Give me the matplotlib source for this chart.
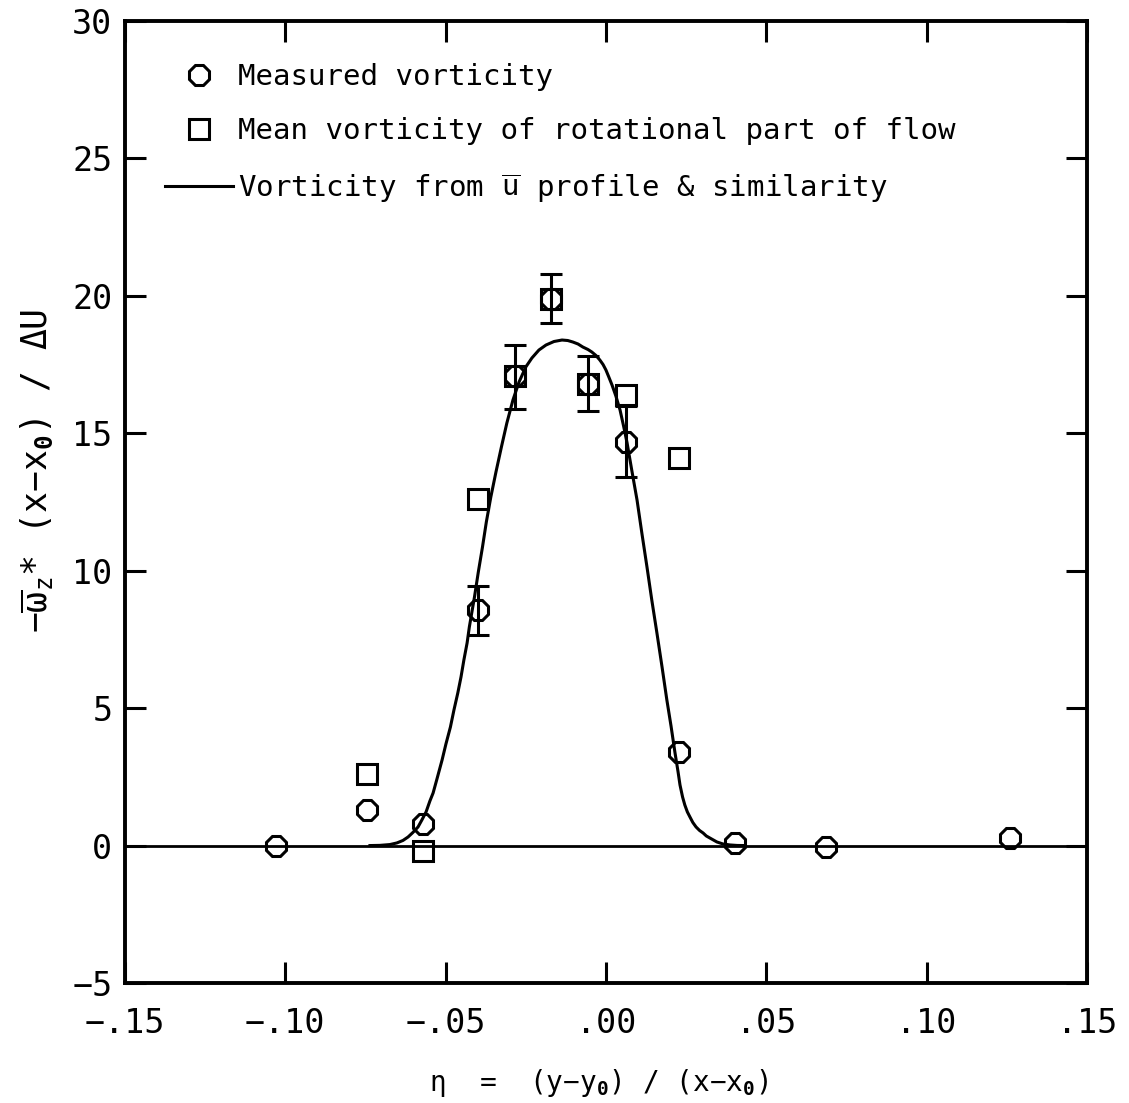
import matplotlib
matplotlib.use("Agg")
import matplotlib.pyplot as plt

plt.rcParams["font.family"] = ["DejaVu Sans Mono", "DejaVu Sans"]
plt.rcParams["mathtext.fontset"] = "custom"
plt.rcParams["mathtext.rm"] = "DejaVu Sans Mono"
plt.rcParams["mathtext.it"] = "DejaVu Sans Mono"
plt.rcParams["mathtext.bf"] = "DejaVu Sans Mono:bold"

# Measured vorticity (circles)
eta_meas = [-0.103, -0.0745, -0.057, -0.040, -0.0284, -0.0172, -0.0056, 0.0062, 0.0228, 0.0402, 0.0686, 0.126]
w_meas = [0.0, 1.3, 0.8, 8.57, 17.1, 19.9, 16.8, 14.7, 3.4, 0.1, -0.05, 0.28]

# Error bars on measured points
eta_err = [-0.040, -0.0284, -0.0172, -0.0056, 0.0062]
w_err_center = [8.55, 17.05, 19.9, 16.8, 14.7]
w_err = [0.9, 1.15, 0.9, 1.0, 1.3]

# Mean vorticity of rotational part of flow (squares)
eta_rot = [-0.0745, -0.057, -0.040, -0.0284, -0.0172, -0.0056, 0.0062, 0.0228]
w_rot = [2.6, -0.2, 12.6, 17.1, 19.9, 16.8, 16.4, 14.1]

# Vorticity from mean-velocity profile and similarity
eta_curve = [-0.0736, -0.0705, -0.0674, -0.0652, -0.0633, -0.0617, -0.0602, -0.0586,
             -0.0574, -0.0561, -0.0549, -0.0539, -0.0527, -0.0511, -0.0499, -0.0485,
             -0.0474, -0.0462, -0.0452, -0.0443, -0.0433, -0.0426, -0.0418, -0.0410,
             -0.0398, -0.0385, -0.0373, -0.0359, -0.0343, -0.0326, -0.0309, -0.0290,
             -0.0271, -0.0250, -0.0231, -0.0209, -0.0187, -0.0162, -0.0137, -0.0119,
             -0.0103, -0.0087, -0.0072, -0.0056, -0.0044, -0.0031, -0.0019, -0.0009,
             0.0, 0.0009, 0.0019, 0.0031, 0.0044, 0.0055, 0.0066, 0.0081,
             0.0097, 0.0112, 0.0128, 0.0143, 0.0159, 0.0175, 0.0190, 0.0203,
             0.0215, 0.0225, 0.0231, 0.0239, 0.0246, 0.0254, 0.0262, 0.0271,
             0.0281, 0.0292, 0.0303, 0.0313, 0.0324, 0.0346, 0.0365, 0.0387,
             0.0409, 0.0433]
w_curve = [0.0, 0.007, 0.036, 0.095, 0.186, 0.313, 0.477, 0.677,
           0.931, 1.222, 1.622, 1.913, 2.423, 3.114, 3.696, 4.314,
           4.933, 5.551, 6.133, 6.752, 7.370, 7.952, 8.498, 9.043,
           9.953, 10.862, 11.772, 12.681, 13.590, 14.500, 15.373, 16.210,
           16.864, 17.410, 17.737, 18.028, 18.210, 18.338, 18.392, 18.374,
           18.319, 18.247, 18.137, 18.047, 17.956, 17.828, 17.665, 17.501,
           17.301, 17.046, 16.755, 16.355, 15.846, 15.264, 14.645, 13.627,
           12.572, 11.371, 10.135, 8.934, 7.734, 6.497, 5.297, 4.351,
           3.405, 2.677, 2.204, 1.768, 1.477, 1.222, 1.040, 0.840,
           0.677, 0.549, 0.458, 0.349, 0.276, 0.131, 0.058, 0.022,
           0.004, 0.0]

xticks = [-0.15, -0.10, -0.05, 0.0, 0.05, 0.10, 0.15]
xtick_labels = ["−.15", "−.10", "−.05", ".00", ".05", ".10", ".15"]
yticks = [-5, 0, 5, 10, 15, 20, 25, 30]
ytick_labels = ["−5", "0", "5", "10", "15", "20", "25", "30"]

fig = plt.figure(figsize=(11.29, 11.03), dpi=100)
ax = fig.add_axes([0.1107, 0.1088, 0.852, 0.8722])

lw = 2.2
ax.axhline(0, color="black", lw=2.0, zorder=1)
line, = ax.plot(eta_curve, w_curve, color="black", lw=lw, zorder=2,
                solid_joinstyle="round",
                label=r"Vorticity from $\overline{\mathrm{u}}$ profile & similarity")
ax.errorbar(eta_err, w_err_center, yerr=w_err, fmt="none", ecolor="black",
            elinewidth=lw, capsize=8, capthick=lw, zorder=3)
circ, = ax.plot(eta_meas, w_meas, linestyle="none", marker="8", ms=15,
                mfc="none", mec="black", mew=2.2, zorder=4, label="Measured vorticity")
sq, = ax.plot(eta_rot, w_rot, linestyle="none", marker="s", ms=14,
              mfc="none", mec="black", mew=2.2, zorder=4,
              label="Mean vorticity of rotational part of flow")

ax.set_xlim(-0.15, 0.15)
ax.set_ylim(-5, 30)
ax.set_xticks(xticks)
ax.set_xticklabels(xtick_labels)
ax.set_yticks(yticks)
ax.set_yticklabels(ytick_labels)
ax.tick_params(axis="both", direction="in", length=15, width=2.2,
               top=True, right=True, labelsize=24)
ax.tick_params(axis="x", pad=17)
ax.tick_params(axis="y", pad=9)
for s in ax.spines.values():
    s.set_linewidth(2.8)

fig.text(0.5306, 0.0181, r"$\eta$  =  (y−y$_{\mathbf{0}}$) / (x−x$_{\mathbf{0}}$)",
         fontsize=20, ha="center", va="center")
fig.text(0.0328, 0.573, r"$-\overline{\omega}_z$* (x−x$_{\mathbf{0}}$) / ΔU",
         fontsize=25, ha="center", va="center", rotation=90)

leg = ax.legend(handles=[circ, sq, line], loc="upper left", frameon=False,
                bbox_to_anchor=(0.0416, 0.9565), fontsize=21, handlelength=2.33,
                handletextpad=0.17, labelspacing=0.9, borderpad=0, borderaxespad=0)

fig.savefig("out.png", dpi=100)
